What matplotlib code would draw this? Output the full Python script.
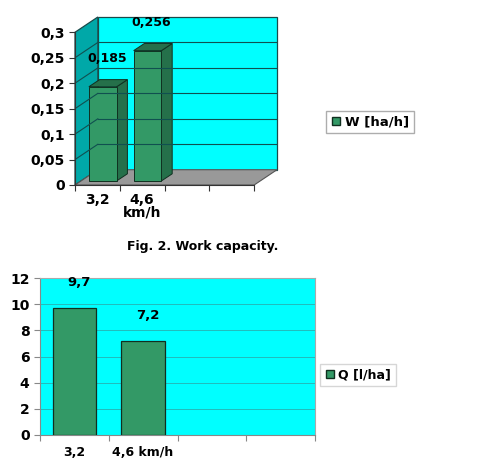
import numpy as np
import matplotlib
matplotlib.use("Agg")
import matplotlib.pyplot as plt
from matplotlib.patches import Polygon, Rectangle
from matplotlib.lines import Line2D

plt.rcParams.update({
    "font.family": "DejaVu Sans",
    "font.weight": "bold",
    "font.size": 9.5,
})

# data
speeds = ["3,2", "4,6"]
work_capacity = [0.185, 0.256]
work_labels = ["0,185", "0,256"]
work_ticks = [0, 0.05, 0.1, 0.15, 0.2, 0.25, 0.3]
work_ticklabels = ["0", "0,05", "0,1", "0,15", "0,2", "0,25", "0,3"]

fuel = [9.7, 7.2]
fuel_labels = ["9,7", "7,2"]
fuel_ticks = [0, 2, 4, 6, 8, 10, 12]
fuel_xlabels = ["3,2", "4,6 km/h"]

BAR = "#339966"
BAR_DARK = "#25704a"
CYAN = "#00ffff"
W, H = 478, 472

fig = plt.figure(figsize=(W / 100, H / 100), dpi=100)


def px_axes(x0, y0, x1, y1):
    return fig.add_axes([x0 / W, 1 - y1 / H, (x1 - x0) / W, (y1 - y0) / H])


# ---------- top chart (pseudo 3D) ----------
ncat = 4
dx, dy = 0.51, 0.03
ax = px_axes(75, 17, 277, 185)
ax.set_xlim(0, ncat + dx)
ax.set_ylim(0, 0.3 + dy)
ax.patch.set_visible(False)
for s in ["top", "right"]:
    ax.spines[s].set_visible(False)
ax.spines["left"].set_bounds(0, 0.3)
ax.spines["bottom"].set_bounds(0, ncat)
ax.spines["left"].set_color("#333333")
ax.spines["bottom"].set_color("#333333")

# walls
ax.add_patch(Polygon([(dx, dy), (ncat + dx, dy), (ncat + dx, 0.3 + dy), (dx, 0.3 + dy)],
                     closed=True, facecolor=CYAN, edgecolor="#1a4a4a", lw=0.9, clip_on=False))
ax.add_patch(Polygon([(0, 0), (dx, dy), (dx, 0.3 + dy), (0, 0.3)],
                     closed=True, facecolor="#00a8a8", edgecolor="#1a4a4a", lw=0.9, clip_on=False))
ax.add_patch(Polygon([(0, 0), (ncat, 0), (ncat + dx, dy), (dx, dy)],
                     closed=True, facecolor="#999999", edgecolor="#555555", lw=0.8, clip_on=False))
for t in work_ticks[1:-1]:
    ax.plot([dx, ncat + dx], [t + dy, t + dy], color="#105050", lw=0.8)
    ax.plot([0, dx], [t, t + dy], color="#105050", lw=0.8)

# bars
bw = 0.62
bdx, bdy = 0.24, 0.014
sy = 0.008
for i, v in enumerate(work_capacity):
    x0 = i + 0.31
    y0 = sy
    ax.add_patch(Polygon([(x0 + bw, y0), (x0 + bw + bdx, y0 + bdy),
                          (x0 + bw + bdx, v + y0 + bdy), (x0 + bw, v + y0)],
                         closed=True, facecolor=BAR_DARK, edgecolor="#103020", lw=0.7))
    ax.add_patch(Polygon([(x0, v + y0), (x0 + bw, v + y0),
                          (x0 + bw + bdx, v + y0 + bdy), (x0 + bdx, v + y0 + bdy)],
                         closed=True, facecolor=BAR_DARK, edgecolor="#103020", lw=0.7))
    ax.add_patch(Rectangle((x0, y0), bw, v, facecolor=BAR, edgecolor="#103020", lw=0.7))
    ax.text(i + 0.71, v + 0.064, work_labels[i], ha="center", va="center",
            fontsize=9, fontweight="bold")

ax.set_yticks(work_ticks)
ax.set_yticklabels(work_ticklabels, fontsize=10)
ax.set_xticks(range(ncat + 1))
ax.set_xticklabels([])
ax.set_xticks([0.5, 1.5], minor=True)
ax.set_xticklabels(speeds, minor=True, fontsize=10)
ax.tick_params(axis="x", which="minor", length=0, pad=6)
ax.tick_params(axis="both", which="major", length=4, color="#333333")
ax.text(1.5, -0.055, "km/h", ha="center", va="center", fontsize=10)

h1 = Line2D([], [], marker="s", linestyle="none", markerfacecolor=BAR,
            markeredgecolor="#103020", markersize=6)
fig.legend([h1], ["W [ha/h]"], loc="center", bbox_to_anchor=(370 / W, 1 - 122 / H),
           frameon=True, fancybox=False, edgecolor="#999999", handlelength=0.8,
           handletextpad=0.3, borderpad=0.35, prop={"weight": "bold", "size": 9.5})

fig.text(203 / W, 1 - 246 / H, "Fig. 2. Work capacity.", ha="center", va="center",
         fontsize=9, fontweight="bold")

# ---------- bottom chart ----------
ax2 = px_axes(40, 278, 315, 435)
ax2.set_facecolor(CYAN)
x = np.arange(len(fuel)) + 0.5
ax2.bar(x, fuel, width=0.63, color=BAR, edgecolor="#103020", lw=0.9, zorder=3)
for xi, v, lab in zip(x, fuel, fuel_labels):
    ax2.text(xi + 0.07, v + 1.95, lab, ha="center", va="center", fontsize=9.5,
             fontweight="bold")
ax2.set_xlim(0, 4)
ax2.set_ylim(0, 12)
ax2.set_yticks(fuel_ticks)
ax2.set_yticklabels([str(t) for t in fuel_ticks], fontsize=10)
ax2.yaxis.grid(True, color="#22bbbb", lw=0.7)
ax2.set_axisbelow(True)
ax2.set_xticks(range(5))
ax2.set_xticklabels([])
ax2.set_xticks(x, minor=True)
ax2.set_xticklabels(fuel_xlabels, minor=True, fontsize=9)
ax2.tick_params(axis="x", which="minor", length=0, pad=8)
ax2.tick_params(axis="both", which="major", length=4, color="#888888")
for s in ["top", "right"]:
    ax2.spines[s].set_color("#aaaaaa")
for s in ["left", "bottom"]:
    ax2.spines[s].set_color("#888888")

fig.legend([h1], ["Q [l/ha]"], loc="center", bbox_to_anchor=(358 / W, 1 - 375 / H),
           frameon=True, fancybox=False, edgecolor="#cccccc", handlelength=0.8,
           handletextpad=0.3, borderpad=0.35, prop={"weight": "bold", "size": 9})

fig.savefig("out.png", dpi=100, facecolor="white")
